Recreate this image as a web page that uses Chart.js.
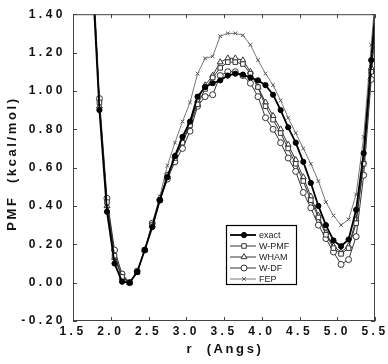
<!DOCTYPE html>
<html>
<head>
<meta charset="utf-8">
<script src="https://cdn.jsdelivr.net/npm/chart.js@4.4.1/dist/chart.umd.min.js"></script>
<style>
	html, body { margin: 0; padding: 0; background: #fff; }
	#wrap { width: 388px; height: 364px; }
</style>
</head>
<body>
<div id="wrap"><canvas id="pmf" width="388" height="364"></canvas></div>
<script>
// r values (Angs), first and last sit just outside the axes and get clipped
const rAngs = [1.75, 1.85, 1.95, 2.05, 2.15, 2.25, 2.35, 2.45, 2.55, 2.65, 2.75, 2.85, 2.95, 3.05, 3.15, 3.25, 3.35, 3.45, 3.55, 3.65,
	3.75, 3.85, 3.95, 4.05, 4.15, 4.25, 4.35, 4.45, 4.55, 4.65, 4.75, 4.85, 4.95, 5.05, 5.15, 5.25, 5.35, 5.45, 5.55];

const pmfExact = [1.65, 0.90, 0.37, 0.10, 0.005, 0.00, 0.055, 0.17, 0.29, 0.43, 0.55, 0.66, 0.76, 0.84, 0.97, 1.02, 1.04, 1.055, 1.08, 1.09,
	1.085, 1.07, 1.055, 1.03, 0.98, 0.90, 0.81, 0.73, 0.63, 0.52, 0.40, 0.30, 0.22, 0.19, 0.225, 0.38, 0.675, 1.16, 1.65];
const pmfWPMF = [1.70, 0.94, 0.42, 0.14, 0.03, 0.00, 0.055, 0.17, 0.30, 0.43, 0.56, 0.65, 0.73, 0.82, 0.93, 1.01, 1.07, 1.12, 1.15, 1.15,
	1.14, 1.09, 1.02, 0.92, 0.85, 0.78, 0.70, 0.62, 0.53, 0.43, 0.34, 0.25, 0.18, 0.15, 0.18, 0.31, 0.62, 1.10, 1.62];
const pmfWHAM = [1.68, 0.92, 0.40, 0.13, 0.025, 0.00, 0.055, 0.17, 0.30, 0.44, 0.56, 0.66, 0.74, 0.83, 0.95, 1.03, 1.08, 1.15, 1.17, 1.17,
	1.16, 1.10, 1.02, 0.94, 0.87, 0.80, 0.72, 0.64, 0.55, 0.45, 0.35, 0.26, 0.19, 0.16, 0.19, 0.33, 0.63, 1.12, 1.64];
const pmfWDF = [1.75, 0.96, 0.44, 0.17, 0.045, 0.00, 0.06, 0.17, 0.31, 0.43, 0.54, 0.63, 0.70, 0.79, 0.92, 0.97, 0.98, 1.08, 1.10, 1.10,
	1.08, 1.04, 0.97, 0.86, 0.80, 0.73, 0.65, 0.58, 0.47, 0.39, 0.30, 0.23, 0.16, 0.095, 0.12, 0.24, 0.56, 1.06, 1.60];
const pmfFEP = [1.70, 0.93, 0.41, 0.15, 0.04, 0.00, 0.06, 0.17, 0.31, 0.45, 0.61, 0.73, 0.84, 0.94, 1.09, 1.17, 1.18, 1.285, 1.30, 1.30,
	1.29, 1.24, 1.16, 1.09, 1.03, 0.95, 0.86, 0.78, 0.70, 0.62, 0.53, 0.42, 0.35, 0.30, 0.33, 0.46, 0.76, 1.24, 1.70];

const seriesNames = ["exact", "W-PMF", "WHAM", "W-DF", "FEP"];
const xTickLabels = ["1.5", "2.0", "2.5", "3.0", "3.5", "4.0", "4.5", "5.0", "5.5"];
const yTickLabels = ["-0.20", "0.00", "0.20", "0.40", "0.60", "0.80", "1.00", "1.20", "1.40"];

const styles = [
	{ color: "#000", width: 1.8, pointStyle: "circle", radius: 2.6, fill: "#000" },
	{ color: "#333", width: 1, pointStyle: "rect", radius: 3.2, fill: "#fff" },
	{ color: "#333", width: 1, pointStyle: "triangle", radius: 3.4, fill: "#fff" },
	{ color: "#333", width: 1, pointStyle: "circle", radius: 3, fill: "#fff" },
	{ color: "#555", width: 0.8, pointStyle: "crossRot", radius: 2.6, fill: "#fff" },
];

const allSeries = [pmfExact, pmfWPMF, pmfWHAM, pmfWDF, pmfFEP];

const datasets = allSeries.map((vals, i) => ({
	label: seriesNames[i],
	data: vals.map((v, j) => ({ x: rAngs[j], y: v })),
	borderColor: styles[i].color,
	borderWidth: styles[i].width,
	pointStyle: styles[i].pointStyle,
	pointRadius: styles[i].radius,
	pointBorderWidth: 1,
	pointBorderColor: styles[i].color,
	pointBackgroundColor: styles[i].fill,
	tension: 0,
	fill: false,
}));

const tickFont = { family: "'Liberation Sans', Arial, sans-serif", size: 12, weight: "bold" };

// frame, inward ticks, axis titles and the boxed legend
const framePlugin = {
	id: "frame",
	beforeDraw(chart) {
		chart.ctx.letterSpacing = "3.5px";
	},
	afterDraw(chart) {
		const { ctx, chartArea: a, scales } = chart;
		ctx.save();
		ctx.letterSpacing = "0px";

		// box
		ctx.strokeStyle = "#444";
		ctx.lineWidth = 1;
		ctx.strokeRect(a.left + 0.5, a.top + 0.5, a.right - a.left - 1, a.bottom - a.top - 1);

		// inward ticks
		ctx.beginPath();
		scales.y.ticks.forEach((t) => {
			const py = Math.round(scales.y.getPixelForValue(t.value)) + 0.5;
			ctx.moveTo(a.left, py); ctx.lineTo(a.left + 4, py);
			ctx.moveTo(a.right, py); ctx.lineTo(a.right - 4, py);
		});
		scales.x.ticks.forEach((t) => {
			const px = Math.round(scales.x.getPixelForValue(t.value)) + 0.5;
			ctx.moveTo(px, a.bottom); ctx.lineTo(px, a.bottom - 4);
			ctx.moveTo(px, a.top); ctx.lineTo(px, a.top + 4);
		});
		ctx.stroke();

		// axis titles
		ctx.fillStyle = "#111";
		ctx.font = "bold 13px 'Liberation Sans', Arial, sans-serif";
		ctx.letterSpacing = "2.6px";
		ctx.textAlign = "center";
		ctx.textBaseline = "middle";
		ctx.fillText("r  (Angs)", (a.left + a.right) / 2 + 1, 349);
		ctx.save();
		ctx.translate(12, (a.top + a.bottom) / 2 - 4);
		ctx.rotate(-Math.PI / 2);
		ctx.fillText("PMF  (kcal/mol)", 0, 0);
		ctx.restore();

		// legend
		ctx.letterSpacing = "0px";
		const lx = 226, ly = 225, lw = 70, lh = 59, step = 11;
		ctx.strokeStyle = "#000";
		ctx.lineWidth = 1.2;
		ctx.strokeRect(lx + 0.5, ly + 0.5, lw, lh);
		ctx.font = "9px 'Liberation Sans', Arial, sans-serif";
		ctx.textAlign = "left";
		seriesNames.forEach((name, i) => {
			const s = styles[i];
			const yy = ly + 10 + i * step;
			ctx.strokeStyle = s.color;
			ctx.lineWidth = s.width;
			ctx.beginPath();
			ctx.moveTo(lx + 4, yy);
			ctx.lineTo(lx + 30, yy);
			ctx.stroke();
			ctx.fillStyle = s.fill;
			ctx.lineWidth = 1;
			Chart.helpers.drawPoint(ctx, { pointStyle: s.pointStyle, radius: s.radius, borderWidth: 1, rotation: 0 }, lx + 18, yy);
			ctx.fillStyle = "#222";
			ctx.fillText(name, lx + 33, yy + 0.5);
		});
		ctx.restore();
	},
};

new Chart(document.getElementById("pmf"), {
	type: "line",
	data: { datasets: datasets },
	options: {
		responsive: false,
		animation: false,
		devicePixelRatio: 1,
		layout: { padding: { top: 14, right: 13, left: 0, bottom: 0 } },
		plugins: {
			legend: { display: false },
			tooltip: { enabled: false },
		},
		scales: {
			x: {
				type: "linear",
				min: 1.5,
				max: 5.5,
				grid: { display: false, drawTicks: false },
				border: { display: false },
				ticks: {
					stepSize: 0.5,
					autoSkip: false,
					maxRotation: 0,
					padding: 3,
					color: "#111",
					font: tickFont,
					callback: (v, i) => xTickLabels[i],
				},
				afterFit: (s) => { s.height = 43; },
			},
			y: {
				min: -0.2,
				max: 1.4,
				grid: { display: false, drawTicks: false },
				border: { display: false },
				ticks: {
					stepSize: 0.2,
					padding: 7,
					color: "#111",
					font: tickFont,
					callback: (v, i) => yTickLabels[i],
				},
				afterFit: (s) => { s.width = 73; },
			},
		},
	},
	plugins: [framePlugin],
});
</script>
</body>
</html>
